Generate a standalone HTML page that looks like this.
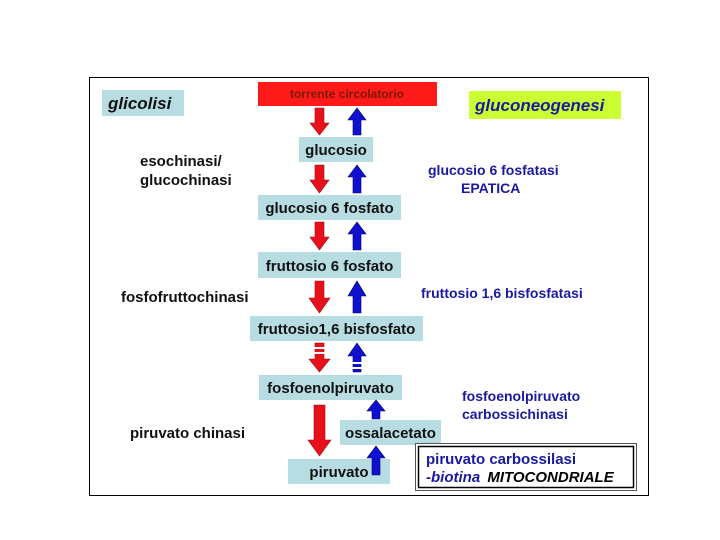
<!DOCTYPE html>
<html><head><meta charset="utf-8"><style>
html,body{margin:0;padding:0;background:#fff;width:720px;height:540px;overflow:hidden}
svg text{font-family:"Liberation Sans",sans-serif;font-weight:bold}
</style></head><body>
<svg width="720" height="540" viewBox="0 0 720 540" xmlns="http://www.w3.org/2000/svg">
<rect x="89.5" y="77.5" width="559" height="418" fill="#fff" stroke="#000" stroke-width="1"/>
<!-- boxes -->
<rect x="258" y="82" width="179" height="24" fill="#ff1a1a"/>
<text x="347" y="98" font-size="12" fill="#7a1a00" text-anchor="middle" font-weight="normal">torrente circolatorio</text>
<rect x="102" y="90" width="82" height="26" fill="#b7dde3"/>
<text x="108" y="109" font-size="17" font-style="italic" fill="#111">glicolisi</text>
<rect x="469" y="91" width="152" height="28" fill="#ccff33"/>
<text x="475" y="111" font-size="17" font-style="italic" fill="#1a1aa0">gluconeogenesi</text>
<g fill="#b7dde3">
<rect x="299" y="137" width="74" height="25"/>
<rect x="258" y="195" width="143" height="25"/>
<rect x="258" y="252" width="143" height="26"/>
<rect x="250" y="316" width="173" height="25"/>
<rect x="259" y="375" width="143" height="25"/>
<rect x="340" y="420" width="101" height="25"/>
<rect x="288" y="459" width="102" height="25"/>
</g>
<g font-size="15" fill="#111" text-anchor="middle">
<text x="336" y="155">glucosio</text>
<text x="329.5" y="213">glucosio 6 fosfato</text>
<text x="329.5" y="271">fruttosio 6 fosfato</text>
<text x="336.5" y="334">fruttosio1,6 bisfosfato</text>
<text x="330.5" y="393">fosfoenolpiruvato</text>
<text x="390.5" y="438">ossalacetato</text>
<text x="339" y="477">piruvato</text>
</g>
<!-- left labels -->
<g font-size="15" fill="#111">
<text x="140" y="166">esochinasi/</text>
<text x="140" y="185">glucochinasi</text>
<text x="121" y="302">fosfofruttochinasi</text>
<text x="130" y="438">piruvato chinasi</text>
</g>
<!-- right labels -->
<g font-size="14" fill="#1a1aa0">
<text x="428" y="175">glucosio 6 fosfatasi</text>
<text x="461" y="193">EPATICA</text>
<text x="421" y="298">fruttosio 1,6 bisfosfatasi</text>
<text x="462" y="401">fosfoenolpiruvato</text>
<text x="462" y="419">carbossichinasi</text>
</g>
<rect x="415.5" y="443.5" width="221" height="47" fill="#fff" stroke="#555" stroke-width="1"/>
<rect x="418.5" y="446.5" width="215" height="41" fill="none" stroke="#000" stroke-width="1.5"/>
<text x="426" y="464" font-size="15" fill="#1a1aa0">piruvato carbossilasi</text>
<text x="426" y="482" font-size="15" font-style="italic" fill="#1a1aa0">-biotina <tspan fill="#000" dx="3">MITOCONDRIALE</tspan></text>
<!-- red down arrows -->
<g fill="#e8101a" stroke="#9a0a10" stroke-width="0.6">
<polygon points="315,108 324,108 324,123 329,123 319.5,135 310,123 315,123"/>
<polygon points="315,165 324,165 324,180 329,180 319.5,193 310,180 315,180"/>
<polygon points="315,222 324,222 324,237 329,237 319.5,250 310,237 315,237"/>
<polygon points="315,281 324,281 324,298 330,298 319.5,313 309,298 315,298"/>
<polygon points="315,343 324,343 324,359 330,359 319.5,372 309,359 315,359"/>
<polygon points="314,405 325,405 325,440 331,440 319.5,456 308,440 314,440"/>
</g>
<g fill="#fff">
<rect x="314" y="347" width="12" height="2"/><rect x="314" y="352" width="12" height="2"/>
</g>
<!-- blue up arrows -->
<g fill="#1010d0" stroke="#000060" stroke-width="0.6">
<polygon points="353,135 361,135 361,120 366,120 357,108 348,120 353,120"/>
<polygon points="353,193 361,193 361,177 366,177 357,165 348,177 353,177"/>
<polygon points="353,250 361,250 361,234 366,234 357,222 348,234 353,234"/>
<polygon points="353,313 361,313 361,296 366,296 357,281 348,296 353,296"/>
<polygon points="353,372 361,372 361,356 366,356 357,343 348,356 353,356"/>
<polygon points="372,419 380,419 380,411 385,411 376,400 367,411 372,411"/>
<polygon points="372,475 380,475 380,458 385,458 376,446 367,458 372,458"/>
</g>
<g fill="#fff">
<rect x="352" y="362" width="10" height="2"/><rect x="352" y="367" width="10" height="2"/>
</g>
</svg>
</body></html>
